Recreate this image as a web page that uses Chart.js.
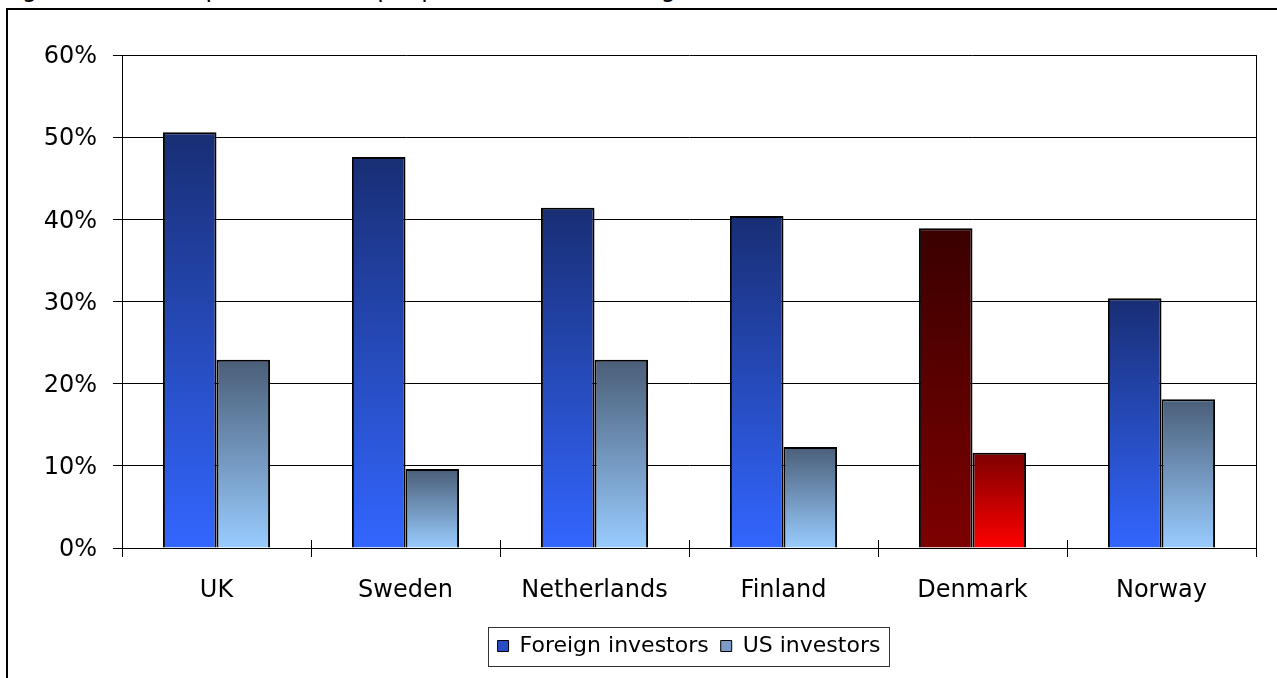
<!DOCTYPE html>
<html>
<head>
<meta charset="utf-8">
<title>Capital losses, proportion from foreign investors</title>
<script src="https://cdn.jsdelivr.net/npm/chart.js@4.4.1/dist/chart.umd.min.js"></script>
<style>
  html, body { margin: 0; padding: 0; background: #fff; overflow: hidden; }
  #page { position: relative; width: 1277px; height: 678px; }
  #heading {
    position: absolute; left: 0; top: -23px;
    font: 24px "DejaVu Sans", Verdana, sans-serif; letter-spacing: 1.6px;
    line-height: 24px; white-space: nowrap; color: #000;
  }
  #frame {
    position: absolute; left: 6px; top: 8px; width: 2000px; height: 2000px;
    border-top: 2px solid #000; border-left: 2px solid #000;
  }
  #chart { position: absolute; left: 0; top: 0; }
</style>
</head>
<body>
<div id="page">
  <div id="heading">Figure 4.10: Capital losses, proportion from foreign investors</div>
  <div id="frame"></div>
  <canvas id="chart" width="1277" height="678"></canvas>
</div>
<script>
// share of capital losses, percent
let categories = ['UK', 'Sweden', 'Netherlands', 'Finland', 'Denmark', 'Norway'];
let foreignShare = [50.6, 47.6, 41.4, 40.4, 38.9, 30.4];
let usShare = [22.9, 9.6, 22.9, 12.3, 11.6, 18.1];
let seriesNames = ['Foreign investors', 'US investors'];
let axisMax = 60;
let axisStep = 10;
let highlighted = 'Denmark';

let fontFamily = '"DejaVu Sans", Verdana, sans-serif';

// each bar gets its own top-to-bottom gradient
function barGradient(ctx, topColor, bottomColor) {
    let chart = ctx.chart;
    let y = chart.scales.y;
    if (!chart.chartArea || !y || ctx.raw === undefined) {
        return bottomColor;
    }
    let top = y.getPixelForValue(ctx.raw);
    let base = y.getPixelForValue(0);
    let g = chart.ctx.createLinearGradient(0, top, 0, base);
    g.addColorStop(0, topColor);
    g.addColorStop(1, bottomColor);
    return g;
}

function foreignFill(ctx) {
    if (categories[ctx.dataIndex] === highlighted) {
        return barGradient(ctx, '#3a0000', '#7d0000');
    }
    return barGradient(ctx, '#182e74', '#3366ff');
}

function usFill(ctx) {
    if (categories[ctx.dataIndex] === highlighted) {
        return barGradient(ctx, '#7d0000', '#ff0000');
    }
    return barGradient(ctx, '#4a5e78', '#99ccff');
}

let legendSwatch = ['#2a4bc6', '#7a9cc6'];

// right edge of the plot, crossing ticks on the category axis, box round the legend
let frameLines = {
    id: 'frameLines',
    beforeDatasetsDraw(chart) {
        let c = chart.ctx;
        let area = chart.chartArea;
        c.save();
        c.strokeStyle = '#000';
        c.lineWidth = 1;
        c.beginPath();
        c.moveTo(Math.round(area.right) + 0.5, area.top);
        c.lineTo(Math.round(area.right) + 0.5, area.bottom);
        let step = (area.right - area.left) / categories.length;
        for (let i = 1; i < categories.length; i++) {
            let x = Math.round(area.left + step * i) + 0.5;
            c.moveTo(x, area.bottom - 8);
            c.lineTo(x, area.bottom);
        }
        c.stroke();
        c.restore();
    },
    afterDraw(chart) {
        let lg = chart.legend;
        if (!lg || !lg.lineWidths) return;
        let pad = lg.options.labels.padding;
        let w = lg.lineWidths[0];
        let x0 = (lg.left + pad + lg.right - w) / 2;
        let fontSize = lg.options.labels.font.size;
        let mid = lg.top + pad + fontSize / 2;
        let c = chart.ctx;
        c.save();
        c.strokeStyle = '#333';
        c.lineWidth = 1;
        c.strokeRect(Math.round(x0 - 10) + 0.5, Math.round(mid - 19) + 0.5, Math.round(w - pad + 18), 39);
        c.restore();
    }
};

let chart = new Chart(document.getElementById('chart'), {
    type: 'bar',
    data: {
        labels: categories,
        datasets: [{
            label: seriesNames[0],
            data: foreignShare,
            backgroundColor: foreignFill,
            borderColor: '#000',
            borderWidth: 2
        }, {
            label: seriesNames[1],
            data: usShare,
            backgroundColor: usFill,
            borderColor: '#000',
            borderWidth: 2
        }]
    },
    plugins: [frameLines],
    options: {
        responsive: false,
        animation: false,
        devicePixelRatio: 1,
        layout: {
            padding: { left: 0, right: 21, top: 55, bottom: 11 }
        },
        datasets: {
            bar: {
                categoryPercentage: 0.567,
                barPercentage: 1
            }
        },
        scales: {
            x: {
                grid: {
                    offset: true,
                    drawOnChartArea: false,
                    tickLength: 9,
                    color: '#000'
                },
                border: { display: true, color: '#000' },
                ticks: {
                    color: '#000',
                    font: { family: fontFamily, size: 24 },
                    padding: 19,
                    maxRotation: 0,
                    autoSkip: false
                },
                afterFit(scale) {
                    scale.height = 75;
                }
            },
            y: {
                min: 0,
                max: axisMax,
                grid: {
                    color: '#000',
                    tickLength: 9
                },
                border: { display: true, color: '#000' },
                ticks: {
                    stepSize: axisStep,
                    color: '#000',
                    padding: 16,
                    labelOffset: 2,
                    font: { family: fontFamily, size: 24 },
                    callback: value => value + '%'
                },
                afterFit(scale) {
                    scale.width = 122;
                }
            }
        },
        plugins: {
            tooltip: { enabled: false },
            legend: {
                position: 'bottom',
                fullSize: false,
                labels: {
                    color: '#000',
                    font: { family: fontFamily, size: 22 },
                    boxWidth: 11,
                    boxHeight: 11,
                    padding: 12,
                    generateLabels: chart => chart.data.datasets.map((ds, i) => ({
                        text: ds.label,
                        fillStyle: legendSwatch[i],
                        strokeStyle: '#000',
                        lineWidth: 1,
                        hidden: false,
                        datasetIndex: i
                    }))
                }
            }
        }
    }
});
</script>
</body>
</html>
